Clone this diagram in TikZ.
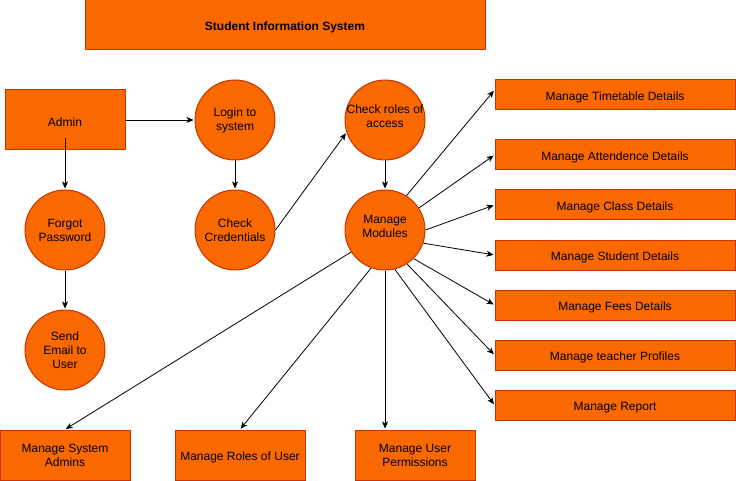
\documentclass[tikz,border=0pt]{standalone}
\usepackage{fontspec}
\setmainfont{Liberation Sans}
\usepackage{tikz}
\usetikzlibrary{arrows.meta}

\newcommand{\dropstrut}{\rule[-8pt]{0pt}{8pt}}

\begin{document}
\begin{tikzpicture}[x=1pt, y=-1pt, >=Stealth,
			box/.style={rectangle, draw=procline, fill=procfill, line width=1pt, inner sep=0pt, align=center, minimum width=#1, execute at begin node=\rule{0pt}{13pt}},
			proc/.style={circle, draw=procline, fill=procfill, line width=1pt, inner sep=0pt, minimum size=80pt, align=center},
			flow/.style={->, line width=0.8pt, shorten >=1pt, -{Stealth[length=7pt, width=6pt, inset=2pt]}},
			every node/.style={font=\fontsize{12}{14}\selectfont}
			]
			
			% Define colors
			\definecolor{procfill}{RGB}{250,104,0}
			\definecolor{procline}{RGB}{199,53,0}
			
			\useasboundingbox (0,0) rectangle (736,481);
			
			% 1. Title
			\node[box=400pt, minimum height=50pt, font=\fontsize{12}{14}\selectfont\bfseries] (title) at (285,25) {Student Information System};
			
			% 2. Admin and login path
			\node[box=120pt, minimum height=60pt] (admin) at (65,120) {Admin};
			\node[proc] (login) at (235,120) {Login to\\system};
			\node[proc] (cred) at (235,230) {Check\\Credentials};
			\node[proc] (forgot) at (65,230) {Forgot\\Password};
			\node[proc] (email) at (65,350) {Send\\Email to\\User};
			\node[proc] (roles) at (385,120) {\makebox[0pt]{Check roles of}\\access\dropstrut};
			\node[proc] (modules) at (385,230) {Manage\\Modules\dropstrut};
			
			% 3. Modules on the right
			\node[box=240pt, minimum height=30pt] (timetable) at (615,95) {Manage Timetable Details};
			\node[box=240pt, minimum height=30pt] (attend) at (615,155) {Manage Attendence Details};
			\node[box=240pt, minimum height=30pt] (class) at (615,205) {Manage Class Details};
			\node[box=240pt, minimum height=30pt] (student) at (615,255) {Manage Student Details};
			\node[box=240pt, minimum height=30pt] (fees) at (615,305) {Manage Fees Details};
			\node[box=240pt, minimum height=30pt] (teacher) at (615,355) {Manage teacher Profiles};
			\node[box=240pt, minimum height=30pt] (report) at (615,405) {Manage Report};
			
			% 4. Modules at the bottom
			\node[box=130pt, minimum height=50pt] (sysadm) at (65,455) {Manage System\\Admins};
			\node[box=130pt, minimum height=50pt] (userroles) at (240,455) {Manage Roles of User};
			\node[box=120pt, minimum height=50pt] (perms) at (415,455) {Manage User\\Permissions};
			
			% 5. Connectors
			\draw[flow] (admin.east) -- (login.west);
			\draw[flow] ([yshift=12pt]admin.south) -- (forgot.north);
			\draw[flow] (login.south) -- (cred.north);
			\draw[flow] (forgot.south) -- (email.north);
			\draw[flow] (cred.east) -- (roles.198);
			\draw[flow] (roles.south) -- (modules.north);
			
			\draw[flow] (modules.58) -- ([yshift=5pt]timetable.west);
			\foreach \a/\t in {33/attend, 0/class, -19/student, -45/fees, -57/teacher, -76/report} {
				\draw[flow] (modules.\a) -- (\t.west);
			}
			
			\draw[flow] (modules.213) -- (sysadm.north);
			\draw[flow] (modules.250) -- (userroles.north);
			\draw[flow] (modules.south) -- (modules.south |- perms.north);
			
		\end{tikzpicture}
\end{document}
